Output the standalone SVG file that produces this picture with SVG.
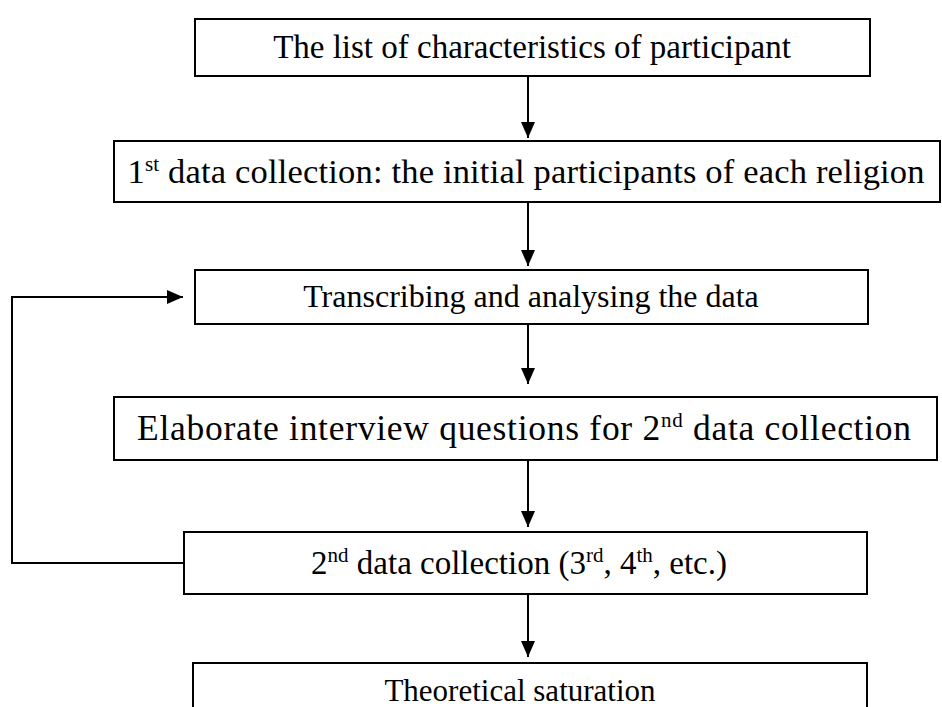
<svg xmlns="http://www.w3.org/2000/svg" width="942" height="707" viewBox="0 0 942 707">
<style>
.box{fill:#fff;stroke:#000;stroke-width:2}
.lbl{font-family:"Liberation Serif","Times New Roman",serif;font-size:33px;fill:#000;text-anchor:middle}
.sup{font-size:21px}
.con{fill:none;stroke:#000;stroke-width:2}
</style>
<defs>
<marker id="ah" markerUnits="userSpaceOnUse" markerWidth="16" markerHeight="14" refX="16" refY="7" orient="auto">
<path d="M0,0 L16,7 L0,14 Z" fill="#000"/>
</marker>
</defs>
<rect width="942" height="707" fill="#fff"/>
<g id="connectors">
<line class="con" x1="528" y1="77" x2="528" y2="138" marker-end="url(#ah)"/>
<line class="con" x1="528" y1="203" x2="528" y2="266" marker-end="url(#ah)"/>
<line class="con" x1="528" y1="325" x2="528" y2="384" marker-end="url(#ah)"/>
<line class="con" x1="528" y1="461" x2="528" y2="527" marker-end="url(#ah)"/>
<line class="con" x1="528" y1="595" x2="528" y2="657" marker-end="url(#ah)"/>
<path class="con" d="M184,563 H12 V297 H183" marker-end="url(#ah)"/>
</g>
<g id="n1"><rect class="box" x="195" y="19" width="675" height="57"/><text class="lbl" x="532" y="58">The list of characteristics of participant</text></g>
<g id="n2"><rect class="box" x="114" y="141" width="826" height="61"/><text class="lbl" x="526" y="183" style="font-size:34.5px" textLength="797" lengthAdjust="spacing">1<tspan class="sup" dy="-12">st</tspan><tspan dy="12"> data collection: the initial participants of each religion</tspan></text></g>
<g id="n3"><rect class="box" x="195" y="270" width="673" height="54"/><text class="lbl" x="531" y="307" style="font-size:32px">Transcribing and analysing the data</text></g>
<g id="n4"><rect class="box" x="114" y="397" width="823" height="63"/><text class="lbl" x="524" y="440" style="font-size:35.5px" textLength="774" lengthAdjust="spacing">Elaborate interview questions for 2<tspan class="sup" dy="-13">nd</tspan><tspan dy="13"> data collection</tspan></text></g>
<g id="n5"><rect class="box" x="184" y="532" width="683" height="62"/><text class="lbl" x="519" y="574">2<tspan class="sup" dy="-12">nd</tspan><tspan dy="12"> data collection (3</tspan><tspan class="sup" dy="-12">rd</tspan><tspan dy="12">, 4</tspan><tspan class="sup" dy="-12">th</tspan><tspan dy="12">, etc.)</tspan></text></g>
<g id="n6"><rect class="box" x="193" y="663" width="674" height="60"/><text class="lbl" x="520" y="701" style="font-size:31px">Theoretical saturation</text></g>
</svg>
